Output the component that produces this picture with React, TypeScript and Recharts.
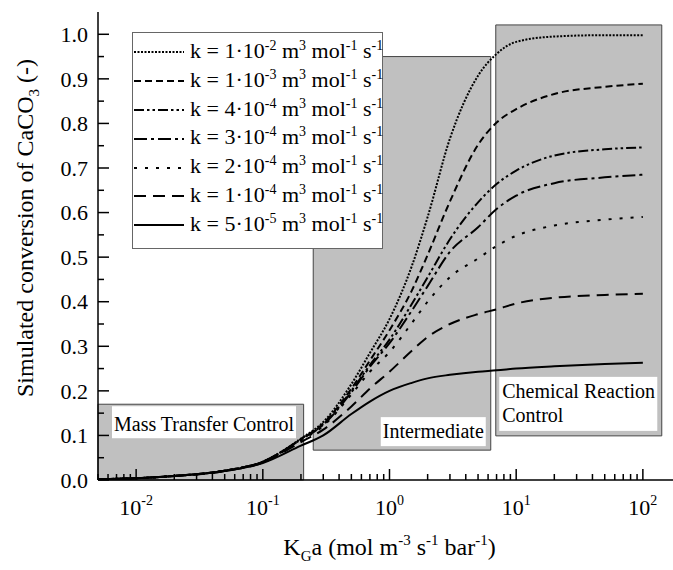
import React from 'react';
import { LineChart, Line, XAxis, YAxis, ReferenceArea, Legend } from 'recharts';

const SERIF = "'Liberation Serif', 'DejaVu Serif', 'Noto Serif', Tinos, 'Times New Roman', Times, serif";

const kgaValues = [0.005, 0.01, 0.02, 0.05, 0.1, 0.2, 0.3, 0.5, 0.7, 1, 1.5, 2, 3, 5, 7, 10, 20, 50, 100];

// simulated conversion for each rate constant k
const conv1e2 = [0.002, 0.004, 0.009, 0.021, 0.041, 0.093, 0.13, 0.215, 0.285, 0.361, 0.48, 0.59, 0.766, 0.907, 0.956, 0.983, 0.995, 0.998, 0.998];
const conv1e3 = [0.002, 0.004, 0.009, 0.021, 0.041, 0.092, 0.127, 0.205, 0.268, 0.336, 0.425, 0.505, 0.625, 0.752, 0.802, 0.832, 0.866, 0.882, 0.889];
const conv4e4 = [0.002, 0.004, 0.009, 0.021, 0.041, 0.091, 0.125, 0.2, 0.258, 0.315, 0.395, 0.455, 0.54, 0.623, 0.664, 0.694, 0.728, 0.742, 0.746];
const conv3e4 = [0.002, 0.004, 0.009, 0.021, 0.041, 0.091, 0.124, 0.197, 0.254, 0.307, 0.38, 0.435, 0.512, 0.567, 0.608, 0.638, 0.666, 0.679, 0.685];
const conv2e4 = [0.002, 0.004, 0.009, 0.021, 0.04, 0.089, 0.121, 0.192, 0.243, 0.287, 0.352, 0.4, 0.455, 0.497, 0.525, 0.548, 0.571, 0.584, 0.59];
const conv1e4 = [0.002, 0.004, 0.009, 0.02, 0.039, 0.085, 0.113, 0.165, 0.205, 0.243, 0.29, 0.321, 0.35, 0.372, 0.383, 0.396, 0.409, 0.415, 0.418];
const conv5e5 = [0.002, 0.004, 0.009, 0.02, 0.038, 0.077, 0.1, 0.148, 0.176, 0.2, 0.218, 0.228, 0.236, 0.243, 0.246, 0.25, 0.255, 0.26, 0.263];

const xMajorTicks = [0.01, 0.1, 1, 10, 100];
const xMinorTicks = [
  0.005, 0.006, 0.007, 0.008, 0.009,
  0.02, 0.03, 0.04, 0.05, 0.06, 0.07, 0.08, 0.09,
  0.2, 0.3, 0.4, 0.5, 0.6, 0.7, 0.8, 0.9,
  2, 3, 4, 5, 6, 7, 8, 9,
  20, 30, 40, 50, 60, 70, 80, 90,
];
const yMajorTicks = [0, 0.1, 0.2, 0.3, 0.4, 0.5, 0.6, 0.7, 0.8, 0.9, 1.0];
const yMinorTicks = [0.05, 0.15, 0.25, 0.35, 0.45, 0.55, 0.65, 0.75, 0.85, 0.95];

// regime regions (data space)
const regions = [
  { id: 'mass', x1: 0.005, x2: 0.21, y1: 0, y2: 0.17 },
  { id: 'inter', x1: 0.25, x2: 6.3, y1: 0.067, y2: 0.95 },
  { id: 'chem', x1: 6.9, x2: 141, y1: 0.099, y2: 1.021 },
];

// legend order follows this list (names s0..s6 sort in the same order)
const series = [
  { key: 'k1e2', mant: '1', exp: '-2', values: conv1e2, dash: '2 1.5' },
  { key: 'k1e3', mant: '1', exp: '-3', values: conv1e3, dash: '7 4' },
  { key: 'k4e4', mant: '4', exp: '-4', values: conv4e4, dash: '10 3 2.5 3 2.5 3' },
  { key: 'k3e4', mant: '3', exp: '-4', values: conv3e4, dash: '13 4 3 4' },
  { key: 'k2e4', mant: '2', exp: '-4', values: conv2e4, dash: '3 8' },
  { key: 'k1e4', mant: '1', exp: '-4', values: conv1e4, dash: '12 7' },
  { key: 'k5e5', mant: '5', exp: '-5', values: conv5e5, dash: undefined as string | undefined },
];

const data = kgaValues.map((x, i) => {
  const row: Record<string, number> = { x };
  series.forEach((s) => {
    row[s.key] = s.values[i];
  });
  return row;
});

const X_DOMAIN = [0.005, 200];
const Y_DOMAIN = [0, 1.05];
const allXTicks = [...xMajorTicks, ...xMinorTicks];
const allYTicks = [...yMajorTicks, ...yMinorTicks];

const XTickBottom = (props: any) => {
  const { x, y, payload } = props;
  const v = payload.value;
  const major = xMajorTicks.includes(v);
  return (
    <g>
      <line x1={x} y1={y} x2={x} y2={y - (major ? 11 : 6)} stroke="#000" strokeWidth={1.5} />
      {major && (
        <text x={x} y={y + 35} textAnchor="middle" fontFamily={SERIF} fontSize={22} fill="#000">
          10
          <tspan dy={-10} fontSize={14}>
            {String(Math.round(Math.log10(v)))}
          </tspan>
        </text>
      )}
    </g>
  );
};

const XTickTop = (props: any) => {
  const { x, y, payload } = props;
  const major = xMajorTicks.includes(payload.value);
  return <line x1={x} y1={y} x2={x} y2={y + (major ? 11 : 6)} stroke="#000" strokeWidth={1.5} />;
};

const YTickLeft = (props: any) => {
  const { x, y, payload } = props;
  const v = payload.value;
  const major = yMajorTicks.includes(v);
  return (
    <g>
      <line x1={x} y1={y} x2={x + (major ? 11 : 6)} y2={y} stroke="#000" strokeWidth={1.5} />
      {major && (
        <text x={x - 10} y={y} dy="0.35em" textAnchor="end" fontFamily={SERIF} fontSize={22} fill="#000">
          {v.toFixed(1)}
        </text>
      )}
    </g>
  );
};

const YTickRight = (props: any) => {
  const { x, y, payload } = props;
  const major = yMajorTicks.includes(payload.value);
  return <line x1={x} y1={y} x2={x - (major ? 11 : 6)} y2={y} stroke="#000" strokeWidth={1.5} />;
};

const XTitle = (props: any) => {
  const { viewBox } = props;
  const cx = viewBox.x + viewBox.width / 2;
  return (
    <text x={cx} y={555} textAnchor="middle" fontFamily={SERIF} fontSize={24} fill="#000">
      K
      <tspan dy={6} fontSize={15}>G</tspan>
      <tspan dy={-6}>a (mol m</tspan>
      <tspan dy={-10} fontSize={15}>-3</tspan>
      <tspan dy={10}> s</tspan>
      <tspan dy={-10} fontSize={15}>-1</tspan>
      <tspan dy={10}> bar</tspan>
      <tspan dy={-10} fontSize={15}>-1</tspan>
      <tspan dy={10}>)</tspan>
    </text>
  );
};

const YTitle = () => {
  const cx = 33;
  const cy = 228;
  return (
    <text
      x={cx}
      y={cy}
      transform={`rotate(-90, ${cx}, ${cy})`}
      textAnchor="middle"
      fontFamily={SERIF}
      fontSize={24}
      fill="#000"
    >
      Simulated conversion of CaCO
      <tspan dy={6} fontSize={15}>3</tspan>
      <tspan dy={-6}> (-)</tspan>
    </text>
  );
};

const RegionLabel = (props: any) => {
  const { viewBox, id } = props;
  if (!viewBox) return null;
  const { x, y, width, height } = viewBox;
  const common = { fontFamily: SERIF, fontSize: 20, fill: '#000' };
  if (id === 'mass') {
    return (
      <g>
        <rect x={x + 14} y={y + 2} width={184} height={32} fill="#fff" />
        <text x={x + 14 + 92} y={y + 27} textAnchor="middle" {...common}>
          Mass Transfer Control
        </text>
      </g>
    );
  }
  if (id === 'inter') {
    const rx = x + width - 110;
    const ry = y + height - 33;
    return (
      <g>
        <rect x={rx} y={ry} width={105} height={29} fill="#fff" />
        <text x={rx + 52.5} y={ry + 21} textAnchor="middle" {...common}>
          Intermediate
        </text>
      </g>
    );
  }
  const rx = x + 3.5;
  const ry = y + height - 59;
  return (
    <g>
      <rect x={rx} y={ry} width={158} height={54} fill="#fff" />
      <text x={rx + 3} y={ry + 21} {...common}>
        Chemical Reaction
      </text>
      <text x={rx + 3} y={ry + 45} {...common}>
        Control
      </text>
    </g>
  );
};

const Sup = ({ children }: { children: React.ReactNode }) => (
  <span style={{ fontSize: 14, position: 'relative', top: -8 }}>{children}</span>
);

const LegendBox = (props: any) => {
  const payload = props.payload || [];
  return (
    <div
      style={{
        width: 251,
        height: 217,
        boxSizing: 'border-box',
        border: '1px solid #666',
        background: '#fff',
        paddingTop: 5,
        fontFamily: SERIF,
        color: '#000',
      }}
    >
      {payload.map((entry: any) => {
        const s = series.find((it, i) => `s${i}` === entry.value || it.key === entry.dataKey);
        if (!s) return null;
        return (
          <div key={s.key} style={{ height: 28.8, display: 'flex', alignItems: 'center' }}>
            <svg width={52} height={10} style={{ flex: 'none' }}>
              <line x1={1} y1={5} x2={51} y2={5} stroke="#000" strokeWidth={2} strokeDasharray={s.dash} />
            </svg>
            <span style={{ marginLeft: 5, fontSize: 22, whiteSpace: 'nowrap', lineHeight: '28px' }}>
              k = {s.mant}·10<Sup>{s.exp}</Sup> m<Sup>3</Sup> mol<Sup>-1</Sup> s<Sup>-1</Sup>
            </span>
          </div>
        );
      })}
    </div>
  );
};

export default function App() {
  return (
    <div style={{ position: 'absolute', left: 0, top: 0, width: 673, height: 570, overflow: 'hidden', background: '#fff' }}>
      <LineChart width={700} height={570} data={data} margin={{ top: 12, right: 19, bottom: 0, left: 0 }}>
        <XAxis
          dataKey="x"
          type="number"
          scale="log"
          domain={X_DOMAIN}
          allowDataOverflow
          ticks={allXTicks}
          interval={0}
          tick={<XTickBottom />}
          tickLine={false}
          tickSize={0}
          tickMargin={0}
          height={90}
          axisLine={{ stroke: '#000', strokeWidth: 1.5 }}
          label={<XTitle />}
        />
        <XAxis
          xAxisId="top"
          orientation="top"
          dataKey="x"
          type="number"
          scale="log"
          domain={X_DOMAIN}
          allowDataOverflow
          ticks={allXTicks}
          interval={0}
          tick={<XTickTop />}
          tickLine={false}
          tickSize={0}
          tickMargin={0}
          height={0}
          axisLine={{ stroke: '#000', strokeWidth: 1.5 }}
        />
        <YAxis
          type="number"
          domain={Y_DOMAIN}
          allowDataOverflow
          ticks={allYTicks}
          interval={0}
          tick={<YTickLeft />}
          tickLine={false}
          tickSize={0}
          tickMargin={0}
          width={98}
          axisLine={{ stroke: '#000', strokeWidth: 1.5 }}
          label={<YTitle />}
        />
        <YAxis
          yAxisId="right"
          orientation="right"
          type="number"
          domain={Y_DOMAIN}
          allowDataOverflow
          ticks={allYTicks}
          interval={0}
          tick={<YTickRight />}
          tickLine={false}
          tickSize={0}
          tickMargin={0}
          width={0}
          axisLine={{ stroke: '#000', strokeWidth: 1.5 }}
        />
        {regions.map((r) => (
          <ReferenceArea
            key={r.id}
            x1={r.x1}
            x2={r.x2}
            y1={r.y1}
            y2={r.y2}
            fill="#c0c0c0"
            fillOpacity={1}
            stroke="#444"
            strokeWidth={1}
            ifOverflow="visible"
            label={<RegionLabel id={r.id} />}
          />
        ))}
        {series.map((s, i) => (
          <Line
            key={s.key}
            dataKey={s.key}
            name={`s${i}`}
            type="monotone"
            stroke="#000"
            strokeWidth={2}
            strokeDasharray={s.dash}
            dot={false}
            activeDot={false}
            isAnimationActive={false}
          />
        ))}
        <Legend
          layout="horizontal"
          verticalAlign="middle"
          align="center"
          content={<LegendBox />}
          wrapperStyle={{ position: 'absolute', left: 132, top: 32, width: 251, height: 217 }}
        />
      </LineChart>
    </div>
  );
}
